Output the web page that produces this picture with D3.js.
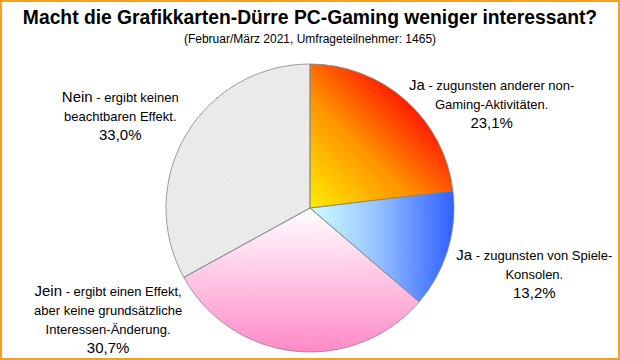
<!DOCTYPE html>
<html><head><meta charset="utf-8">
<script src="https://cdn.jsdelivr.net/npm/d3@7"></script>
<style>
html,body{margin:0;padding:0;background:#fff;}
svg{display:block;}
text{font-family:"Liberation Sans",Arial,sans-serif;fill:#000;}
</style></head>
<body>
<script>
const title = "Macht die Grafikkarten-Dürre PC-Gaming weniger interessant?";
const subtitle = "(Februar/März 2021, Umfrageteilnehmer: 1465)";
const categories = ["Ja-andere", "Ja-Konsolen", "Jein", "Nein"];
const values = [23.1, 13.2, 30.7, 33.0];
const labelHeads = ["Ja", "Ja", "Jein", "Nein"];
const labelLines = [
  [" - zugunsten anderer non-", "Gaming-Aktivitäten."],
  [" - zugunsten von Spiele-", "Konsolen."],
  [" - ergibt einen Effekt,", "aber keine grundsätzliche", "Interessen-Änderung."],
  [" - ergibt keinen", "beachtbaren Effekt."]
];
const pctLabels = ["23,1%", "13,2%", "30,7%", "33,0%"];

const W = 620, H = 360;
const svg = d3.select("body").append("svg").attr("width", W).attr("height", H);
const defs = svg.append("defs");

function lin(id, x1, y1, x2, y2, stops) {
  const g = defs.append("linearGradient").attr("id", id)
    .attr("x1", x1).attr("y1", y1).attr("x2", x2).attr("y2", y2);
  stops.forEach(s => g.append("stop").attr("offset", s[0]).attr("stop-color", s[1]));
}
lin("g0", 0, 1, 1, 0, [[0, "#ffee00"], [0.4, "#ff9000"], [0.72, "#ff1a00"], [1, "#ff0000"]]);
lin("g1", 0, 0, 1, 0, [[0, "#ccffff"], [0.45, "#99c4ff"], [1, "#3060ff"]]);
lin("g2", 0, 0, 0, 1, [[0, "#ffffff"], [1, "#ff8ac8"]]);
const f = defs.append("filter").attr("id", "noise").attr("x", 0).attr("y", 0).attr("width", 1).attr("height", 1);
f.append("feTurbulence").attr("type", "fractalNoise").attr("baseFrequency", 1.2).attr("numOctaves", 2).attr("seed", 3).attr("result", "t");
f.append("feColorMatrix").attr("in", "t").attr("type", "matrix")
  .attr("values", "0 0 0 0 0.78  0 0 0 0 0.78  0 0 0 0 0.78  1.2 0 0 0 -0.45").attr("result", "n");
f.append("feComposite").attr("in", "n").attr("in2", "SourceGraphic").attr("operator", "atop").attr("result", "c");
const fills = ["url(#g0)", "url(#g1)", "url(#g2)", "#ebebeb"];

svg.append("rect").attr("x", 1).attr("y", 1).attr("width", W - 2).attr("height", H - 2)
  .attr("fill", "none").attr("stroke", "#f4a020").attr("stroke-width", 2);

svg.append("text").attr("x", W / 2).attr("y", 24).attr("text-anchor", "middle")
  .attr("font-size", 19.3).attr("font-weight", "bold").text(title);
svg.append("text").attr("x", W / 2).attr("y", 43).attr("text-anchor", "middle")
  .attr("font-size", 12).text(subtitle);

const cx = 310, cy = 208, R = 144;
const pie = d3.pie().sort(null).value(d => d)(values);
const arc = d3.arc().innerRadius(0).outerRadius(R);
const g = svg.append("g").attr("transform", `translate(${cx},${cy})`);
g.selectAll("path.s").data(pie).enter().append("path").attr("class", "s")
  .attr("d", arc)
  .attr("fill", (d, i) => fills[i])
  .attr("filter", (d, i) => i === 3 ? "url(#noise)" : null);
g.selectAll("path.o").data(pie).enter().append("path").attr("class", "o")
  .attr("d", arc).attr("fill", "none")
  .attr("stroke", "#858585").attr("stroke-width", 0.8);

// label layout: offsets from the slice's outer centroid
const labelArc = d3.arc().innerRadius(R * 1.2).outerRadius(R * 1.2);
const offsets = [[67, 30], [59, 21], [-184, -55], [-41, 1]];
const lineH = 19;
pie.forEach((d, i) => {
  const c = labelArc.centroid(d);
  const lx = cx + c[0] + offsets[i][0], ly = cy + c[1] + offsets[i][1];
  const lines = labelLines[i];
  const n = lines.length + 1;
  const y0 = ly - (n - 1) * lineH / 2;
  const t = svg.append("text").attr("text-anchor", "middle").attr("font-size", 13);
  const first = t.append("tspan").attr("x", lx).attr("y", y0);
  first.append("tspan").attr("font-size", 15).text(labelHeads[i]);
  first.append("tspan").text(lines[0]);
  for (let k = 1; k < lines.length; k++) {
    t.append("tspan").attr("x", lx).attr("y", y0 + k * lineH).text(lines[k]);
  }
  t.append("tspan").attr("x", lx).attr("y", y0 + lines.length * lineH).attr("font-size", 15).text(pctLabels[i]);
});
</script>
</body></html>
